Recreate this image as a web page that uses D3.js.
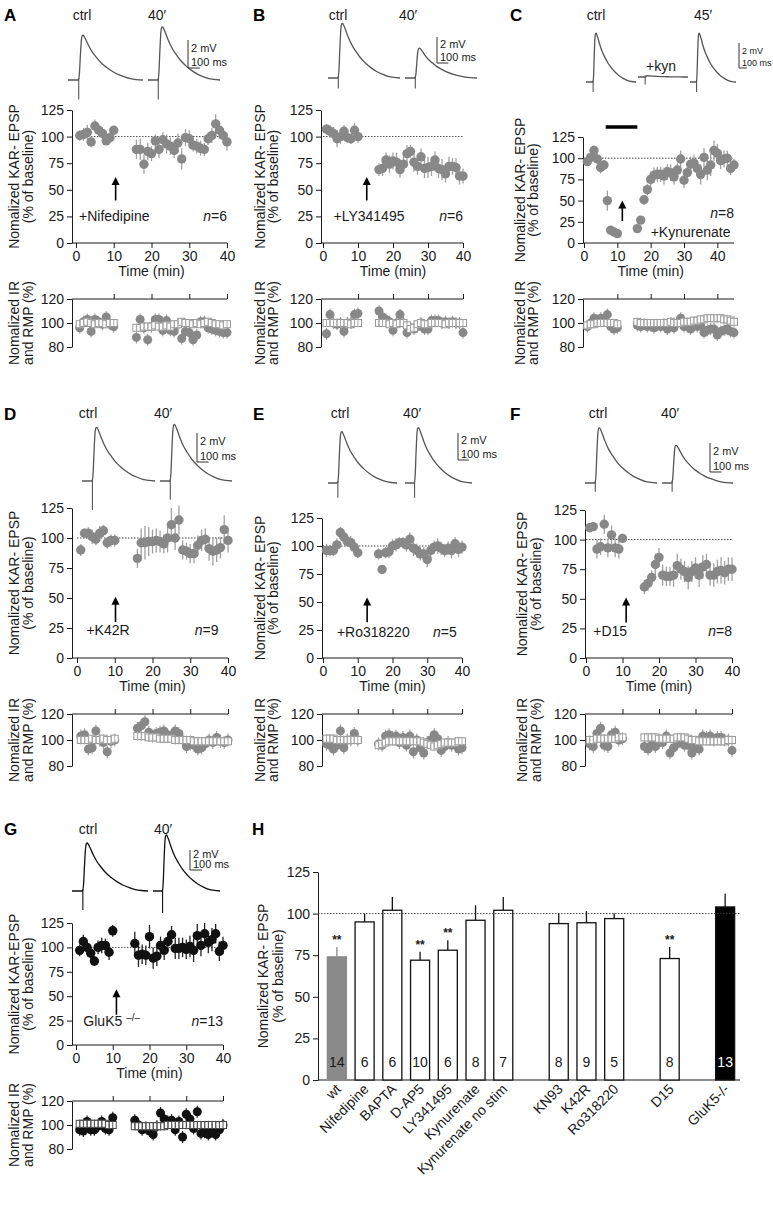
<!DOCTYPE html>
<html>
<head>
<meta charset="utf-8">
<script src="https://cdn.jsdelivr.net/npm/d3@7"></script>
<style>
  body { margin: 0; background: #fff; }
  svg { display: block; }
</style>
</head>
<body>
<svg id="fig" width="773" height="1205"></svg>
<script>
// ---- shared axis values ----
const mainTicks = [0, 25, 50, 75, 100, 125];
const irTicks = [80, 100, 120];
const timeTicks = [0, 10, 20, 30, 40];

// recording minutes (baseline, then after the gap)
const minBase = [1, 2, 3, 4, 5, 6, 7, 8, 9, 10];
const minPost = [16, 17, 18, 19, 20, 21, 22, 23, 24, 25, 26, 27, 28, 29, 30, 31, 32, 33, 34, 35, 36, 37, 38, 39, 40];
const minPostC = [16, 17, 18, 19, 20, 21, 22, 23, 24, 25, 26, 27, 28, 29, 30, 31, 32, 33, 34, 35, 36, 37, 38, 39, 40, 41, 42, 43, 44, 45];

// EPSP trace shape: [ms, fraction of peak]
const epspShape = [[0, 0], [88, 0], [96, 0.15], [104, 0.55], [112, 0.88], [120, 0.99], [127, 1], [136, 0.97], [150, 0.9], [175, 0.76], [205, 0.62], [240, 0.5], [280, 0.38], [325, 0.28], [375, 0.19], [425, 0.12], [475, 0.07], [525, 0.03], [575, 0.01], [630, 0]];

// ---- A: nifedipine ----
const aEpsp = [101, 102, 104, 95, 110, 106, 103, 96, 99, 106, 88, 88, 74, 86, 84, 96, 88, 97, 93, 91, 87, 94, 79, 99, 98, 92, 91, 89, 88, 98, 101, 112, 106, 101, 95];
const aEpspErr = [5, 6, 7, 5, 6, 5, 6, 4, 5, 4, 9, 10, 9, 8, 7, 6, 8, 7, 9, 8, 7, 9, 10, 8, 8, 6, 7, 7, 6, 6, 7, 9, 8, 7, 8];
const aRmp = [96, 101, 103, 93, 103, 101, 99, 105, 99, 97, 88, 103, 96, 86, 97, 103, 103, 94, 102, 94, 93, 99, 87, 93, 92, 86, 90, 101, 101, 96, 95, 94, 93, 92, 92];
const aIr = [99, 100, 101, 100, 99, 100, 100, 99, 100, 100, 96, 96, 97, 97, 97, 98, 97, 97, 98, 97, 99, 99, 101, 100, 100, 99, 100, 99, 100, 101, 100, 99, 99, 98, 99];
const aTraceAmp = [3.2, 3.8];
const aTraceArt = [1.4, 1.4];

// ---- B: LY341495 ----
const bEpsp = [107, 105, 103, 98, 100, 105, 99, 98, 106, 100, 69, 70, 78, 74, 77, 76, 69, 74, 84, 86, 76, 72, 81, 70, 71, 72, 78, 70, 69, 65, 72, 72, 71, 63, 63];
const bEpspErr = [5, 6, 6, 8, 7, 6, 5, 5, 7, 6, 6, 7, 7, 8, 8, 9, 8, 7, 8, 6, 9, 8, 8, 9, 10, 9, 8, 9, 10, 8, 9, 8, 9, 8, 7];
const bRmp = [91, 107, 100, 99, 100, 93, 100, 100, 107, 108, 110, 105, 103, 101, 94, 100, 107, 100, 92, 96, 95, 97, 100, 95, 95, 102, 102, 102, 100, 101, 100, 101, 100, 100, 92];
const bIr = [100, 100, 100, 100, 100, 100, 100, 99, 100, 100, 100, 100, 100, 99, 100, 99, 100, 100, 98, 95, 96, 99, 100, 99, 99, 100, 100, 100, 100, 99, 100, 100, 100, 100, 100];
const bTraceAmp = [4.2, 2.3];
const bTraceArt = [0.8, 0.8];

// ---- C: kynurenate ----
const cEpsp = [96, 101, 109, 99, 89, 92, 50, 15, 13, 11, 17, 27, 51, 63, 75, 80, 81, 81, 79, 84, 83, 78, 86, 99, 74, 83, 93, 94, 88, 81, 101, 86, 92, 109, 106, 97, 99, 100, 88, 92];
const cEpspErr = [5, 6, 6, 6, 7, 6, 12, 3, 2, 2, 3, 4, 6, 7, 8, 9, 9, 9, 10, 9, 10, 9, 8, 10, 9, 9, 9, 10, 10, 12, 11, 12, 13, 12, 11, 10, 10, 9, 8, 7];
const cRmp = [97, 100, 104, 102, 104, 103, 107, 97, 95, 96, 98, 97, 99, 97, 98, 96, 98, 97, 99, 95, 100, 96, 100, 104, 97, 97, 95, 98, 97, 98, 92, 94, 95, 95, 90, 93, 94, 95, 93, 92];
const cIr = [98, 99, 99, 100, 100, 100, 100, 100, 100, 99, 101, 100, 100, 100, 100, 100, 100, 100, 100, 100, 101, 100, 100, 100, 101, 101, 101, 102, 102, 103, 103, 104, 104, 104, 104, 104, 103, 103, 102, 101];
const cTraceAmp = [3.9, 0.1, 3.9];
const cTraceArt = [0.8, 0.6, 0.8];
const cKynBar = [6.5, 16];

// ---- D: K42R ----
const dEpsp = [90, 104, 104, 101, 99, 104, 106, 96, 98, 98, 83, 96, 96, 97, 97, 98, 97, 95, 100, 111, 100, 115, 90, 89, 87, 87, 94, 98, 99, 91, 89, 90, 92, 107, 98];
const dEpspErr = [5, 4, 5, 6, 5, 6, 5, 5, 5, 5, 8, 12, 14, 12, 10, 10, 9, 8, 12, 14, 10, 12, 8, 7, 8, 8, 8, 9, 9, 10, 12, 10, 9, 12, 10];
const dRmp = [103, 104, 93, 94, 107, 100, 98, 91, 99, 100, 109, 111, 114, 106, 103, 105, 106, 107, 104, 103, 107, 105, 100, 95, 97, 96, 93, 94, 97, 100, 98, 102, 99, 98, 100];
const dIr = [100, 100, 100, 101, 100, 100, 101, 100, 100, 101, 103, 103, 103, 102, 102, 102, 101, 101, 101, 101, 100, 100, 100, 100, 100, 99, 99, 99, 99, 99, 99, 99, 99, 99, 99];
const dTraceAmp = [3.7, 3.9];
const dTraceArt = [2.0, 1.3];

// ---- E: Ro318220 ----
const eEpsp = [96, 96, 96, 101, 112, 108, 104, 103, 99, 94, 93, 79, 94, 95, 100, 101, 103, 103, 101, 106, 98, 96, 93, 93, 88, 96, 99, 100, 98, 96, 98, 96, 102, 97, 99];
const eEpspErr = [6, 5, 5, 6, 5, 5, 5, 6, 5, 5, 5, 4, 5, 6, 6, 6, 5, 5, 6, 6, 7, 6, 6, 6, 7, 6, 6, 7, 6, 6, 6, 7, 6, 7, 6];
const eRmp = [97, 96, 93, 96, 107, 94, 100, 100, 105, 100, 97, 96, 103, 104, 102, 103, 98, 102, 96, 103, 91, 100, 94, 90, 98, 100, 104, 101, 92, 95, 98, 96, 97, 93, 94];
const eIr = [101, 101, 101, 100, 100, 100, 100, 100, 100, 100, 96, 97, 98, 99, 99, 99, 99, 99, 99, 99, 99, 99, 99, 98, 97, 96, 95, 96, 97, 98, 98, 98, 98, 99, 99];
const eTraceAmp = [3.8, 4.1];
const eTraceArt = [1.1, 1.1];

// ---- F: D15 ----
const fEpsp = [110, 111, 92, 94, 113, 93, 104, 93, 92, 101, 60, 63, 68, 79, 85, 70, 69, 69, 70, 78, 75, 73, 68, 73, 76, 70, 77, 79, 70, 70, 73, 74, 72, 75, 75];
const fEpspErr = [3, 3, 8, 7, 8, 8, 8, 8, 8, 4, 6, 6, 6, 9, 8, 9, 8, 8, 10, 10, 9, 9, 10, 9, 9, 10, 10, 9, 9, 10, 10, 11, 10, 10, 10];
const fRmp = [97, 95, 105, 109, 96, 95, 104, 106, 100, 101, 95, 93, 96, 95, 98, 98, 103, 90, 94, 97, 99, 96, 96, 90, 95, 93, 103, 102, 103, 100, 102, 102, 100, 100, 92];
const fIr = [100, 100, 101, 101, 101, 101, 101, 101, 102, 102, 102, 102, 102, 102, 101, 101, 101, 101, 101, 102, 102, 102, 101, 100, 100, 99, 99, 99, 99, 99, 99, 99, 99, 100, 100];
const fTraceAmp = [3.8, 2.6];
const fTraceArt = [0.6, 0.6];

// ---- G: GluK5 -/- ----
const gEpsp = [97, 106, 100, 94, 86, 100, 102, 102, 95, 117, 104, 92, 93, 92, 111, 89, 91, 102, 97, 106, 113, 99, 99, 100, 98, 101, 97, 112, 102, 114, 105, 108, 114, 96, 102];
const gEpspErr = [6, 7, 6, 6, 5, 7, 8, 7, 8, 6, 12, 12, 10, 10, 12, 11, 10, 9, 10, 9, 9, 11, 11, 10, 10, 11, 12, 12, 11, 11, 11, 12, 10, 10, 9];
const gRmp = [96, 95, 103, 96, 96, 99, 103, 97, 96, 106, 104, 100, 96, 98, 95, 92, 99, 110, 105, 103, 104, 96, 103, 90, 109, 105, 97, 111, 93, 94, 92, 98, 92, 96, 100];
const gIr = [101, 101, 101, 101, 101, 101, 101, 101, 100, 100, 99, 99, 99, 99, 99, 99, 99, 99, 99, 100, 100, 100, 100, 100, 100, 100, 100, 100, 100, 100, 100, 100, 100, 100, 100];
const gTraceAmp = [4.8, 5.6];
const gTraceArt = [1.9, 2.2];

// ---- H: summary bars ----
const hGroups = ['wt', 'Nifedipine', 'BAPTA', 'D-AP5', 'LY341495', 'Kynurenate', 'Kynurenate no stim', 'KN93', 'K42R', 'Ro318220', 'D15', 'GluK5-/-'];
const hSlots = ['wt', 'Nifedipine', 'BAPTA', 'D-AP5', 'LY341495', 'Kynurenate', 'Kynurenate no stim', 'gap1', 'KN93', 'K42R', 'Ro318220', 'gap2', 'D15', 'gap3', 'GluK5-/-'];
const hMeans = [74, 95, 102, 72, 78, 96, 102, 94, 94.5, 97, 73, 104];
const hErr = [6, 5, 8, 5, 6, 9, 8, 6, 7, 3, 7, 8];
const hN = [14, 6, 6, 10, 6, 8, 7, 8, 9, 5, 8, 13];
const hStars = ['**', '', '', '**', '**', '', '', '', '', '', '**', ''];

const FONT = '"Liberation Sans", Arial, Helvetica, sans-serif';
const svg = d3.select('#fig').attr('font-family', FONT);
const INK = '#1a1a1a';
const minAll = minBase.concat(minPost);
const minAllC = minBase.concat(minPostC);

function styleAxis(sel) {
  sel.selectAll('text').attr('font-size', 14).attr('fill', INK).attr('font-family', FONT);
  sel.selectAll('line,path').attr('stroke', INK).attr('stroke-width', 1);
}

function vLabel(g, x, cy, text) {
  g.append('text')
    .attr('transform', `translate(${x},${cy}) rotate(-90)`)
    .attr('text-anchor', 'middle').attr('dy', '0.35em')
    .attr('font-size', 14).attr('fill', INK)
    .text(text);
}

function drawArrow(g, x, yTail, yTip) {
  g.append('line').attr('x1', x).attr('x2', x).attr('y1', yTail).attr('y2', yTip + 6)
    .attr('stroke', '#000').attr('stroke-width', 1.6);
  g.append('path').attr('d', `M${x - 4},${yTip + 8}L${x + 4},${yTip + 8}L${x},${yTip}Z`).attr('fill', '#000');
}

function drawTrace(g, t, pxPerMv, color) {
  const tx = d3.scaleLinear().domain([0, 630]).range([t.x0, t.x0 + t.w]);
  const ty = mv => t.y0 - mv * pxPerMv;
  const line = d3.line().x(d => tx(d[0])).y(d => ty(d[1] * t.amp)).curve(d3.curveMonotoneX);
  g.append('path').attr('d', line(epspShape)).attr('fill', 'none').attr('stroke', color).attr('stroke-width', 1.3);
  g.append('line').attr('x1', tx(90)).attr('x2', tx(90)).attr('y1', ty(0.15)).attr('y2', ty(-t.art))
    .attr('stroke', color).attr('stroke-width', 1.1);
}

function drawTimePanel(p) {
  const g = svg.append('g');
  const x = d3.scaleLinear().domain([0, p.xMax]).range([p.px0, p.pxMax]);
  const y = d3.scaleLinear().domain([0, 125]).range([p.bot, p.top]);
  const yIr = d3.scaleLinear().domain([80, 120]).range([p.irBot, p.irTop]);
  const dot = p.color;
  const errCol = p.black ? '#222' : '#a0a0a0';

  g.append('text').attr('x', p.lx).attr('y', p.ly).attr('font-size', 17).attr('font-weight', 'bold').attr('fill', '#000').text(p.letter);

  // example traces
  p.traceLabels.forEach(l => g.append('text').attr('x', l.x).attr('y', l.y || p.traceLabelY)
    .attr('text-anchor', 'middle').attr('font-size', 14).attr('fill', INK).text(l.t));
  p.traces.forEach(t => drawTrace(g, t, p.pxPerMv, p.black ? '#111' : '#555'));
  const barH = 2 * p.pxPerMv, barW = 100 * p.traces[0].w / 630;
  const sbFont = p.sbFont || 11;
  g.append('path').attr('d', `M${p.sb[0]},${p.sb[1]}V${p.sb[1] + barH}H${p.sb[0] + barW}`)
    .attr('fill', 'none').attr('stroke', '#333').attr('stroke-width', 1);
  g.append('text').attr('x', p.sb[0] + 3).attr('y', p.sb[1] + barH * 0.42).attr('font-size', sbFont).attr('fill', INK).text('2 mV');
  g.append('text').attr('x', p.sb[0] + 3).attr('y', p.sb[1] + barH - 2).attr('font-size', sbFont).attr('fill', INK).text('100 ms');
  if (p.extra) p.extra(g, x, y);

  // main plot axes
  g.append('g').attr('transform', `translate(${p.axisX},0)`)
    .call(d3.axisLeft(y).tickValues(mainTicks).tickSize(5).tickSizeOuter(0)).call(styleAxis);
  const xa = g.append('g').attr('transform', `translate(0,${p.bot})`)
    .call(d3.axisBottom(x).tickValues(timeTicks).tickSize(5).tickPadding(3)).call(styleAxis);
  xa.select('.domain').remove();
  g.append('line').attr('x1', p.axisX).attr('x2', p.pxMax).attr('y1', p.bot).attr('y2', p.bot).attr('stroke', INK);
  g.append('text').attr('x', (p.px0 + x(40)) / 2).attr('y', p.bot + 33).attr('text-anchor', 'middle')
    .attr('font-size', 14).attr('fill', INK).text('Time (min)');
  vLabel(g, p.yl[0], (p.top + p.bot) / 2, p.ylText);
  vLabel(g, p.yl[1], (p.top + p.bot) / 2, '(% of baseline)');

  g.append('line').attr('x1', x(0)).attr('x2', x(p.xMax)).attr('y1', y(100)).attr('y2', y(100))
    .attr('stroke', '#444').attr('stroke-width', 1).attr('stroke-dasharray', '1.5,1.5');

  // annotations
  drawArrow(g, x(p.arrow[0]), y(p.arrow[1]), y(p.arrow[2]));
  const drug = g.append('text').attr('x', x(p.drug.x)).attr('y', y(p.drug.y)).attr('dy', '0.35em')
    .attr('font-size', 14).attr('fill', INK).text(p.drug.text);
  if (p.drug.sup) drug.append('tspan').attr('font-size', 10).attr('dy', -5).text(p.drug.sup);
  const nT = g.append('text').attr('x', x(p.nPos.x)).attr('y', y(p.nPos.y)).attr('dy', '0.35em')
    .attr('text-anchor', 'end').attr('font-size', 14).attr('fill', INK);
  nT.append('tspan').attr('font-style', 'italic').text('n');
  nT.append('tspan').text('=' + p.nPos.n);

  // main series
  const pts = p.mins.map((m, i) => ({ m, v: p.epsp[i], e: p.err[i] }));
  g.selectAll(null).data(pts).enter().append('line')
    .attr('x1', d => x(d.m)).attr('x2', d => x(d.m)).attr('y1', d => y(d.v - d.e)).attr('y2', d => y(d.v + d.e))
    .attr('stroke', errCol).attr('stroke-width', 1.3);
  g.selectAll(null).data(pts).enter().append('circle')
    .attr('cx', d => x(d.m)).attr('cy', d => y(d.v)).attr('r', 4.7).attr('fill', dot);

  // IR / RMP plot
  g.append('g').attr('transform', `translate(${p.axisX},0)`)
    .call(d3.axisLeft(yIr).tickValues(irTicks).tickSize(5).tickSizeOuter(0)).call(styleAxis);
  const ta = g.append('g').attr('transform', `translate(0,${p.irTop})`)
    .call(d3.axisTop(x).tickValues(timeTicks.slice(1)).tickSize(5).tickFormat('')).call(styleAxis);
  ta.select('.domain').remove();
  g.append('line').attr('x1', p.axisX).attr('x2', p.pxMax).attr('y1', p.irTop).attr('y2', p.irTop).attr('stroke', INK);
  vLabel(g, p.yl[0], (p.irTop + p.irBot) / 2, 'Nomalized IR');
  vLabel(g, p.yl[1], (p.irTop + p.irBot) / 2, 'and RMP (%)');

  const rmp = p.mins.map((m, i) => ({ m, v: p.rmp[i] }));
  const ir = p.mins.map((m, i) => ({ m, v: p.ir[i] }));
  g.selectAll(null).data(rmp).enter().append('line')
    .attr('x1', d => x(d.m)).attr('x2', d => x(d.m)).attr('y1', d => yIr(d.v - 5)).attr('y2', d => yIr(d.v + 5))
    .attr('stroke', errCol).attr('stroke-width', 1.2);
  g.selectAll(null).data(rmp).enter().append('circle')
    .attr('cx', d => x(d.m)).attr('cy', d => yIr(d.v)).attr('r', 4.5).attr('fill', dot);
  g.selectAll(null).data(ir).enter().append('rect')
    .attr('x', d => x(d.m) - 3.5).attr('y', d => yIr(d.v) - 3.5).attr('width', 7).attr('height', 7)
    .attr('fill', '#fff').attr('stroke', p.black ? '#444' : '#999').attr('stroke-width', 1);
  g.selectAll(null).data(ir).enter().append('line')
    .attr('x1', d => x(d.m)).attr('x2', d => x(d.m)).attr('y1', d => yIr(d.v - 3.5)).attr('y2', d => yIr(d.v + 3.5))
    .attr('stroke', p.black ? '#555' : '#aaa').attr('stroke-width', 1);
}

const row1 = { top: 110, bot: 243, irTop: 299, irBot: 347 };
const row2 = { top: 508, bot: 658, irTop: 714, irBot: 766 };
const row3 = { top: 923, bot: 1045, irTop: 1101, irBot: 1149 };

const panels = [
  Object.assign({}, row1, {
    letter: 'A', lx: 4, ly: 21, axisX: 72, px0: 76, pxMax: 227, xMax: 40, yl: [14, 28],
    ylText: 'Nomalized KAR- EPSP', color: '#888', mins: minAll,
    epsp: aEpsp, err: aEpspErr, rmp: aRmp, ir: aIr,
    arrow: [10.5, 40, 62], drug: { text: '+Nifedipine', x: 0.8, y: 25 }, nPos: { n: 6, x: 40, y: 25 },
    traceLabelY: 20, traceLabels: [{ t: 'ctrl', x: 82 }, { t: '40\u2032', x: 157 }], pxPerMv: 14, sb: [188, 40],
    traces: [{ x0: 68, w: 75, y0: 80, amp: aTraceAmp[0], art: aTraceArt[0] }, { x0: 148, w: 72, y0: 80, amp: aTraceAmp[1], art: aTraceArt[1] }]
  }),
  Object.assign({}, row1, {
    letter: 'B', lx: 253, ly: 21, axisX: 321, px0: 323, pxMax: 463, xMax: 40, yl: [260, 273],
    ylText: 'Nomalized KAR- EPSP', color: '#888', mins: minAll,
    epsp: bEpsp, err: bEpspErr, rmp: bRmp, ir: bIr,
    arrow: [12.5, 40, 62], drug: { text: '+LY341495', x: 3, y: 25 }, nPos: { n: 6, x: 40, y: 25 },
    traceLabelY: 20, traceLabels: [{ t: 'ctrl', x: 338 }, { t: '40\u2032', x: 408 }], pxPerMv: 13, sb: [437, 37],
    traces: [{ x0: 328, w: 72, y0: 78, amp: bTraceAmp[0], art: bTraceArt[0] }, { x0: 405, w: 72, y0: 78, amp: bTraceAmp[1], art: bTraceArt[1] }]
  }),
  Object.assign({}, row1, {
    letter: 'C', lx: 510, ly: 21, axisX: 583, px0: 584, pxMax: 734, xMax: 45, yl: [520, 533], top: 137,
    ylText: 'Nomalized KAR- EPSP', color: '#888', mins: minAllC,
    epsp: cEpsp, err: cEpspErr, rmp: cRmp, ir: cIr,
    arrow: [11.5, 26, 50], drug: { text: '+Kynurenate', x: 20, y: 13 }, nPos: { n: 8, x: 45, y: 35 },
    traceLabelY: 20, traceLabels: [{ t: 'ctrl', x: 596 }, { t: '45\u2032', x: 703 }, { t: '+kyn', x: 661, y: 71 }],
    pxPerMv: 12.5, sb: [739, 43], sbFont: 9,
    traces: [{ x0: 586, w: 50, y0: 82, amp: cTraceAmp[0], art: cTraceArt[0] }, { x0: 638, w: 50, y0: 77, amp: cTraceAmp[1], art: cTraceArt[1] }, { x0: 690, w: 46, y0: 82, amp: cTraceAmp[2], art: cTraceArt[2] }],
    extra: (g, x, y) => {
      g.append('line').attr('x1', x(cKynBar[0])).attr('x2', x(cKynBar[1])).attr('y1', y(125) - 10).attr('y2', y(125) - 10)
        .attr('stroke', '#000').attr('stroke-width', 3.5);
    }
  }),
  Object.assign({}, row2, {
    letter: 'D', lx: 4, ly: 420, axisX: 72, px0: 77, pxMax: 228, xMax: 40, yl: [14, 28],
    ylText: 'Nomalized KAR- EPSP', color: '#888', mins: minAll,
    epsp: dEpsp, err: dEpspErr, rmp: dRmp, ir: dIr,
    arrow: [10.2, 30, 51], drug: { text: '+K42R', x: 2.5, y: 23 }, nPos: { n: 9, x: 37.5, y: 23 },
    traceLabelY: 418, traceLabels: [{ t: 'ctrl', x: 88 }, { t: '40\u2032', x: 163 }], pxPerMv: 14.5, sb: [197, 433],
    traces: [{ x0: 82, w: 73, y0: 481, amp: dTraceAmp[0], art: dTraceArt[0] }, { x0: 160, w: 72, y0: 481, amp: dTraceAmp[1], art: dTraceArt[1] }]
  }),
  Object.assign({}, row2, {
    letter: 'E', lx: 253, ly: 420, axisX: 322, px0: 323, pxMax: 462, xMax: 40, yl: [260, 273], top: 518,
    ylText: 'Nomalized KAR- EPSP', color: '#888', mins: minAll,
    epsp: eEpsp, err: eEpspErr, rmp: eRmp, ir: eIr,
    arrow: [12.7, 32, 54], drug: { text: '+Ro318220', x: 4, y: 23 }, nPos: { n: 5, x: 38.5, y: 23 },
    traceLabelY: 418, traceLabels: [{ t: 'ctrl', x: 340 }, { t: '40\u2032', x: 412 }], pxPerMv: 13.5, sb: [458, 433],
    traces: [{ x0: 328, w: 69, y0: 483, amp: eTraceAmp[0], art: eTraceArt[0] }, { x0: 405, w: 67, y0: 483, amp: eTraceAmp[1], art: eTraceArt[1] }]
  }),
  Object.assign({}, row2, {
    letter: 'F', lx: 510, ly: 420, axisX: 585, px0: 586, pxMax: 732, xMax: 40, yl: [522, 536], top: 510,
    ylText: 'Nomalized KAR- EPSP', color: '#888', mins: minAll,
    epsp: fEpsp, err: fEpspErr, rmp: fRmp, ir: fIr,
    arrow: [11, 30, 51], drug: { text: '+D15', x: 2, y: 23 }, nPos: { n: 8, x: 40, y: 23 },
    traceLabelY: 418, traceLabels: [{ t: 'ctrl', x: 598 }, { t: '40\u2032', x: 670 }], pxPerMv: 14.5, sb: [710, 443],
    traces: [{ x0: 585, w: 72, y0: 483, amp: fTraceAmp[0], art: fTraceArt[0] }, { x0: 662, w: 71, y0: 483, amp: fTraceAmp[1], art: fTraceArt[1] }]
  }),
  Object.assign({}, row3, {
    letter: 'G', lx: 4, ly: 835, axisX: 72, px0: 76, pxMax: 223, xMax: 40, yl: [14, 28],
    ylText: 'Nomalized KAR-EPSP', color: '#111', black: true, mins: minAll,
    epsp: gEpsp, err: gEpspErr, rmp: gRmp, ir: gIr,
    arrow: [11, 31, 57], drug: { text: 'GluK5 ', sup: '\u2013/\u2013', x: 2, y: 25 }, nPos: { n: 13, x: 40, y: 25 },
    traceLabelY: 834, traceLabels: [{ t: 'ctrl', x: 88 }, { t: '40\u2032', x: 163 }], pxPerMv: 10, sb: [190, 850],
    traces: [{ x0: 72, w: 76, y0: 891, amp: gTraceAmp[0], art: gTraceArt[0] }, { x0: 153, w: 67, y0: 891, amp: gTraceAmp[1], art: gTraceArt[1] }]
  })
];
panels.forEach(drawTimePanel);

// ---- panel H ----
(function drawH() {
  const g = svg.append('g');
  const axisX = 318, bot = 1080;
  const y = d3.scaleLinear().domain([0, 125]).range([bot, 872]);
  const x = d3.scaleBand().domain(hSlots).range([323, 739]).paddingInner(0.314).paddingOuter(0.157);
  const bw = x.bandwidth();
  g.append('text').attr('x', 252).attr('y', 835).attr('font-size', 17).attr('font-weight', 'bold').text('H');

  g.append('g').attr('transform', `translate(${axisX},0)`)
    .call(d3.axisLeft(y).tickValues(mainTicks).tickSize(5).tickSizeOuter(0)).call(styleAxis);
  g.append('line').attr('x1', axisX).attr('x2', 740).attr('y1', bot).attr('y2', bot).attr('stroke', INK).attr('stroke-width', 1.2);
  vLabel(g, 263, (872 + bot) / 2, 'Nomalized KAR- EPSP');
  vLabel(g, 278, (872 + bot) / 2, '(% of baseline)');

  const rows = hGroups.map((k, i) => ({ k, m: hMeans[i], e: hErr[i], n: hN[i], s: hStars[i], i }));
  const fill = d => d.k === 'wt' ? '#8a8a8a' : d.k === 'GluK5-/-' ? '#000' : '#fff';
  g.selectAll(null).data(rows).enter().append('line')
    .attr('x1', d => x(d.k) + bw / 2).attr('x2', d => x(d.k) + bw / 2)
    .attr('y1', d => y(d.m)).attr('y2', d => y(d.m + d.e))
    .attr('stroke', d => d.k === 'wt' ? '#8a8a8a' : '#111').attr('stroke-width', 1.3);
  g.selectAll(null).data(rows).enter().append('rect')
    .attr('x', d => x(d.k)).attr('y', d => y(d.m)).attr('width', bw).attr('height', d => bot - y(d.m))
    .attr('fill', fill).attr('stroke', d => d.k === 'wt' ? '#8a8a8a' : '#111').attr('stroke-width', 1.3);

  g.append('line').attr('x1', axisX).attr('x2', 740).attr('y1', y(100)).attr('y2', y(100))
    .attr('stroke', '#444').attr('stroke-width', 1).attr('stroke-dasharray', '1.5,1.5');

  g.selectAll(null).data(rows.filter(d => d.s)).enter().append('text')
    .attr('x', d => x(d.k) + bw / 2).attr('y', d => y(d.m + d.e) - 3).attr('text-anchor', 'middle')
    .attr('font-size', 12).attr('font-weight', 'bold').attr('fill', INK).text(d => d.s);
  g.selectAll(null).data(rows).enter().append('text')
    .attr('x', d => x(d.k) + bw / 2).attr('y', bot - 13).attr('text-anchor', 'middle')
    .attr('font-size', 14).attr('fill', d => d.k === 'GluK5-/-' ? '#fff' : INK).text(d => d.n);
  g.selectAll(null).data(rows).enter().append('text')
    .attr('transform', d => `translate(${x(d.k) + bw / 2 + 5},${bot + 10}) rotate(-45)`)
    .attr('text-anchor', 'end').attr('font-size', 14).attr('fill', INK).text(d => d.k);
})();
</script>
</body>
</html>
